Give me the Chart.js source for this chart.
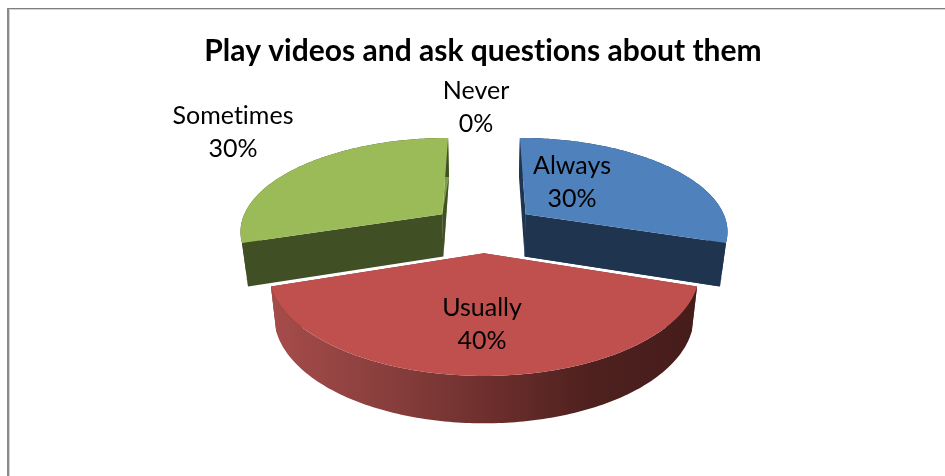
<!DOCTYPE html>
<html lang="en">
<head>
  <meta charset="UTF-8">
  <title>Play videos and ask questions about them</title>
  <script src="https://cdn.jsdelivr.net/npm/chart.js"></script>
  <style>
    html, body { margin: 0; background: #fff; overflow: hidden; }
    #frame {
      position: absolute; left: 7px; top: 8px; right: 0; bottom: 0;
      border-left: 2px solid #8a8a8a;
      border-top: 1px solid #7f7f7f;
      box-shadow: inset 0 1px 0 #d4d4d4, inset 1px 0 0 #d4d4d4;
    }
    canvas { position: absolute; left: 0; top: 0; }
  </style>
</head>
<body>
  <div id="frame"></div>
  <canvas id="chart" width="945" height="476"></canvas>
  <script>
    const categories = ['Always', 'Usually', 'Sometimes', 'Never'];
    const shares = [30, 40, 30, 0];

    const topColors = ['#4f81bd', '#c0504d', '#9bbb59', '#8064a2'];
    const wallColors = ['#1f344f', '#6c2e2c', '#414f25', '#352a44'];
    const closingEdgeColors = ['#1f344f', '#6c2e2c', '#7f9b48', '#352a44'];
    const labelSpots = [[572, 166], [482, 308], [233, 116], [476, 91]];

    // tilted-plate camera: plate coords are in radii, v grows toward the viewer
    const cam = { cx: 484, cy: 228, rx: 203, ry: 93, persp: 0.165, explode: 0.26 };
    const lowerShrink = 0.975;

    function project(u, v) {
      const k = 1 / (1 - cam.persp * v);
      return [cam.cx + cam.rx * u * k, cam.cy + cam.ry * v * k];
    }

    function projectLower(u, v) {
      const [x, y] = project(u, v);
      return [cam.cx + (x - cam.cx) * lowerShrink, y + 43 + 3.5 * v];
    }

    function rimPoints(arc, fn) {
      const mid = (arc.startAngle + arc.endAngle) / 2;
      const ox = Math.cos(mid) * cam.explode;
      const oy = Math.sin(mid) * cam.explode;
      const pts = [];
      const steps = Math.ceil((arc.endAngle - arc.startAngle) * 60);
      for (let i = 0; i <= steps; i++) {
        const a = arc.startAngle + (arc.endAngle - arc.startAngle) * i / steps;
        pts.push(fn(ox + Math.cos(a), oy + Math.sin(a)));
      }
      return { pts, apex: fn(ox, oy) };
    }

    function fillPath(ctx, pts, style) {
      ctx.beginPath();
      pts.forEach((p, i) => (i ? ctx.lineTo(p[0], p[1]) : ctx.moveTo(p[0], p[1])));
      ctx.closePath();
      ctx.fillStyle = style;
      ctx.fill();
    }

    function redWallGradient(ctx) {
      const g = ctx.createLinearGradient(272, 0, 696, 0);
      g.addColorStop(0, '#a64c4a');
      g.addColorStop(0.3, '#853d3b');
      g.addColorStop(0.52, '#6c2e2c');
      g.addColorStop(0.75, '#4e211f');
      g.addColorStop(1, '#461c1a');
      return g;
    }

    // replaces the flat arcs with extruded, exploded slices using the arc angles
    const pie3d = {
      id: 'pie3d',
      beforeDraw(chart) {
        // a tiny spacing keeps Lato from joining "ti" into a ligature
        chart.ctx.letterSpacing = '0.01px';
      },
      beforeDatasetDraw(chart) {
        const ctx = chart.ctx;
        const arcs = chart.getDatasetMeta(0).data
          .map((arc, i) => ({ arc, i }))
          .filter(s => s.arc.endAngle > s.arc.startAngle)
          .sort((a, b) =>
            Math.sin((a.arc.startAngle + a.arc.endAngle) / 2) -
            Math.sin((b.arc.startAngle + b.arc.endAngle) / 2));

        arcs.forEach(({ arc, i }) => {
          const top = rimPoints(arc, project);
          const low = rimPoints(arc, projectLower);
          const last = top.pts.length - 1;
          const wall = i === 1 ? redWallGradient(ctx) : wallColors[i];

          fillPath(ctx, [top.apex, top.pts[last], low.pts[last], low.apex], closingEdgeColors[i]);
          fillPath(ctx, [top.apex, low.apex, low.pts[last]], wallColors[i]);
          fillPath(ctx, [top.apex, top.pts[0], low.pts[0], low.apex], wallColors[i]);
          fillPath(ctx, top.pts.concat(low.pts.slice().reverse()), wall);
          fillPath(ctx, [top.apex].concat(top.pts), topColors[i]);
        });
        return false;
      },
      afterDatasetsDraw(chart) {
        const ctx = chart.ctx;
        ctx.save();
        ctx.font = '25px Lato';
        ctx.fillStyle = '#000';
        ctx.textAlign = 'center';
        ctx.textBaseline = 'middle';
        categories.forEach((name, i) => {
          const [x, y] = labelSpots[i];
          ctx.fillText(name, x, y);
          ctx.fillText(shares[i] + '%', x, y + 33);
        });
        ctx.restore();
      }
    };

    new Chart(document.getElementById('chart'), {
      type: 'pie',
      data: {
        labels: categories,
        datasets: [{ data: shares, backgroundColor: topColors, borderWidth: 0 }],
      },
      options: {
        responsive: false,
        animation: false,
        layout: { padding: { left: 21 } },
        plugins: {
          legend: { display: false },
          tooltip: { enabled: false },
          title: {
            display: true,
            text: 'Play videos and ask questions about them',
            color: '#000',
            font: { family: 'Lato', size: 30, weight: 'bold' },
            padding: { top: 33, bottom: 10 },
          },
        },
      },
      plugins: [pie3d],
    });
  </script>
</body>
</html>
